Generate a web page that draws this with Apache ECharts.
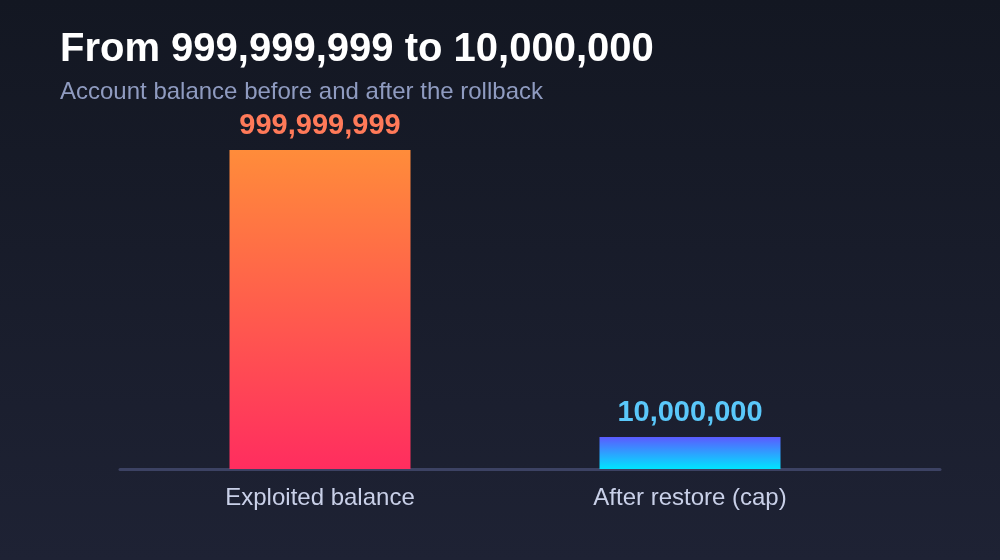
<!DOCTYPE html>
<html>
<head>
<meta charset="utf-8">
<style>
html,body{margin:0;padding:0;}
#c{width:1000px;height:560px;}
</style>
<script src="https://cdn.jsdelivr.net/npm/echarts@6/dist/echarts.min.js"></script>
</head>
<body>
<div id="c"></div>
<script>
const categories = ['Exploited balance', 'After restore (cap)'];
const balances = [999999999, 10000000];
const labelColors = ['#FF7A59', '#5AC8FA'];
const barGradients = [['#FF8C3A', '#FF2D5F'], ['#5B5BFF', '#00E5FF']];

const fmt = v => v.toLocaleString('en-US');
const FONT = '"Liberation Sans", Arial, sans-serif';
const chart = echarts.init(document.getElementById('c'));

const data = balances.map((v, i) => ({
  value: Math.sqrt(v),
  itemStyle: {
    color: new echarts.graphic.LinearGradient(0, 0, 0, 1, [
      { offset: 0, color: barGradients[i][0] },
      { offset: 1, color: barGradients[i][1] }
    ])
  },
  label: { color: labelColors[i] }
}));

chart.setOption({
  backgroundColor: new echarts.graphic.LinearGradient(0, 0, 0, 1, [
    { offset: 0, color: '#131722' },
    { offset: 1, color: '#1E2234' }
  ]),
  title: {
    text: 'From 999,999,999 to 10,000,000',
    subtext: 'Account balance before and after the rollback',
    left: 55, top: 25,
    itemGap: 10,
    textStyle: { color: '#FFFFFF', fontSize: 40, fontWeight: 'bold', fontFamily: FONT },
    subtextStyle: { color: '#8F9BC0', fontSize: 24, fontFamily: FONT }
  },
  grid: [
    { left: 120, right: 60, top: 150, bottom: 91 },
    { left: 135, right: 125, top: 150, bottom: 91 }
  ],
  xAxis: [
    { type: 'category', gridIndex: 0, data: [''],
      axisLine: { lineStyle: { color: '#3C4263', width: 3 } },
      axisTick: { show: false }, axisLabel: { show: false } },
    { type: 'category', gridIndex: 1, data: categories,
      axisLine: { show: false },
      axisTick: { show: false },
      axisLabel: { color: '#C9D0E8', fontSize: 24, margin: 17, fontFamily: FONT } }
  ],
  yAxis: [
    { type: 'value', gridIndex: 0, show: false, splitLine: { show: false } },
    { type: 'value', gridIndex: 1, show: false, min: 0, max: 'dataMax', splitLine: { show: false } }
  ],
  series: [{
    type: 'bar',
    xAxisIndex: 1, yAxisIndex: 1,
    barWidth: 181,
    data: data,
    label: {
      show: true, position: 'top', distance: 10,
      fontSize: 29, fontWeight: 'bold',
      fontFamily: FONT,
      formatter: p => fmt(balances[p.dataIndex])
    }
  }]
});
</script>
</body>
</html>
